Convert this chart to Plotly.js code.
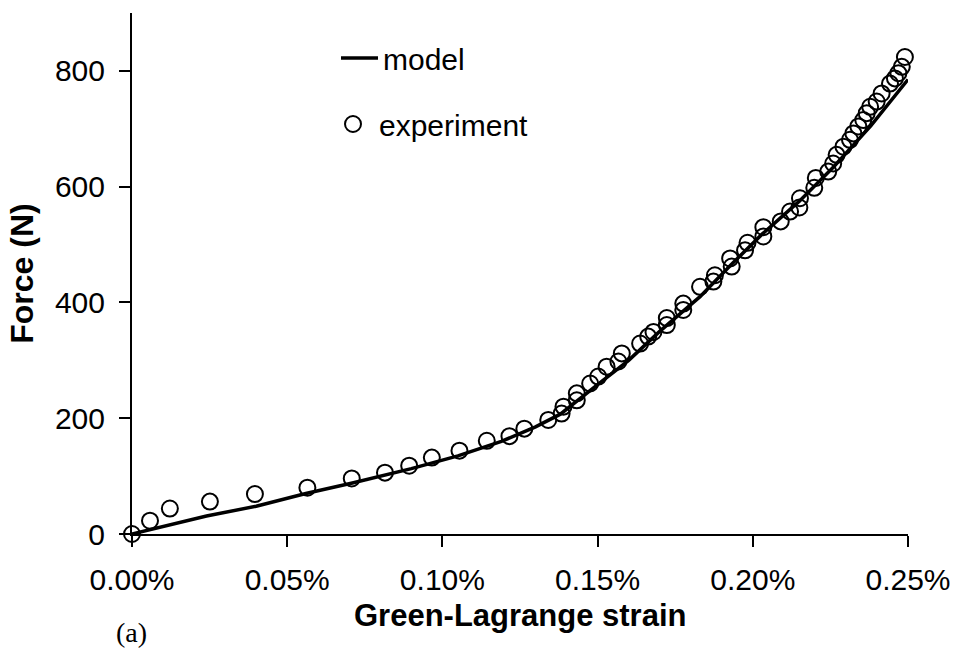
<!DOCTYPE html>
<html>
<head>
<meta charset="utf-8">
<script src="https://cdn.plot.ly/plotly-3.0.1.min.js"></script>
<style>html,body{margin:0;padding:0;background:#fff;}#chart{width:957px;height:650px;}</style>
</head>
<body>
<div id="chart"></div>
<script>
// Model curve (strain in %, force in N)
const strainModel = [0, 0.012, 0.024, 0.040, 0.056, 0.071, 0.090, 0.105, 0.119, 0.130, 0.138, 0.150, 0.160, 0.170, 0.183, 0.193, 0.203, 0.215, 0.226, 0.238, 0.250];
const forceModel  = [0, 15, 31, 48, 70, 88, 113, 135, 160, 185, 207, 258, 300, 350, 410, 465, 518, 575, 634, 705, 785];

// Experimental points (strain in %, force in N)
const strainExp = [0, 0.0058, 0.0122, 0.0251, 0.0396, 0.0565, 0.0708, 0.0815, 0.0893, 0.0966, 0.1055, 0.1143, 0.1216, 0.1264, 0.1341, 0.1384, 0.1390, 0.1433, 0.1433, 0.1476, 0.1502, 0.1529, 0.1567, 0.1578, 0.1637, 0.1663, 0.1680, 0.1723, 0.1723, 0.1776, 0.1776, 0.1830, 0.1873, 0.1878, 0.1932, 0.1927, 0.1975, 0.1983, 0.2034, 0.2034, 0.2090, 0.2120, 0.2150, 0.2152, 0.2198, 0.2203, 0.2243, 0.2259, 0.2270, 0.2292, 0.2313, 0.2324, 0.2340, 0.2356, 0.2367, 0.2378, 0.2399, 0.2415, 0.2442, 0.2458, 0.2469, 0.2480, 0.2490];
const forceExp  = [0, 23, 44, 56, 69, 80, 96, 106, 118, 132, 144, 161, 169, 182, 197, 208, 220, 231, 243, 260, 272, 289, 298, 312, 329, 341, 349, 361, 373, 387, 398, 427, 436, 447, 462, 476, 490, 503, 514, 530, 540, 557, 564, 580, 598, 615, 626, 640, 655, 669, 681, 692, 704, 715, 727, 738, 747, 761, 778, 787, 796, 807, 824];

// Axis ticks
const xTickVals = [0, 0.05, 0.10, 0.15, 0.20, 0.25];
const xTickText = ['0.00%', '0.05%', '0.10%', '0.15%', '0.20%', '0.25%'];
const yTickVals = [0, 200, 400, 600, 800];
const yTickText = ['0', '200', '400', '600', '800'];

const xTitle = 'Green-Lagrange strain';
const yTitle = 'Force (N)';
const panelLabel = '(a)';

const FONT = 'Liberation Sans, Arial, sans-serif';

const traces = [
  {
    x: strainModel, y: forceModel, name: 'model', type: 'scatter', mode: 'lines',
    line: {color: '#000', width: 3.5}, cliponaxis: false, legend: 'legend'
  },
  {
    x: strainExp, y: forceExp, name: 'experiment', type: 'scatter', mode: 'markers',
    marker: {symbol: 'circle-open', size: 16, color: '#000', line: {color: '#000', width: 2}},
    cliponaxis: false, legend: 'legend2'
  }
];

const axisCommon = {
  showline: true, linecolor: '#000', linewidth: 2,
  ticks: 'outside', ticklen: 11, tickwidth: 2, tickcolor: '#000',
  showgrid: false, zeroline: false,
  tickfont: {family: FONT, size: 30, color: '#000'}
};

const layout = {
  width: 957, height: 650,
  margin: {l: 132, r: 49, t: 13, b: 116},
  paper_bgcolor: '#fff', plot_bgcolor: '#fff',
  font: {family: FONT, color: '#000'},
  xaxis: Object.assign({}, axisCommon, {
    range: [0, 0.25], tickmode: 'array', tickvals: xTickVals, ticktext: xTickText,
    ticklabelstandoff: 7
  }),
  yaxis: Object.assign({}, axisCommon, {
    range: [0, 900], tickmode: 'array', tickvals: yTickVals, ticktext: yTickText,
    ticklabelstandoff: 8,
    title: {text: yTitle, font: {family: FONT, size: 32, weight: 'bold', color: '#000'}, standoff: 12}
  }),
  showlegend: true,
  legend: {
    x: (336 - 132) / 776, y: (534 - 58) / 521, xanchor: 'left', yanchor: 'middle',
    itemwidth: 37,
    bgcolor: 'rgba(0,0,0,0)', borderwidth: 0,
    font: {family: FONT, size: 30, color: '#000'}
  },
  legend2: {
    x: (327 - 132) / 776, y: (534 - 124) / 521, xanchor: 'left', yanchor: 'middle',
    itemwidth: 42,
    bgcolor: 'rgba(0,0,0,0)', borderwidth: 0,
    font: {family: FONT, size: 30, color: '#000'}
  },
  annotations: [
    {text: xTitle, xref: 'paper', yref: 'paper', x: 0.5, y: (534 - 615) / 521,
     xanchor: 'center', yanchor: 'middle', showarrow: false,
     font: {family: FONT, size: 31, weight: 'bold', color: '#000'}},
    {text: panelLabel, xref: 'paper', yref: 'paper', x: (131 - 132) / 776, y: (534 - 650) / 521,
     xanchor: 'center', yanchor: 'bottom', showarrow: false,
     font: {family: 'Liberation Serif, Times New Roman, serif', size: 28, color: '#000'}}
  ]
};

Plotly.newPlot('chart', traces, layout, {staticPlot: true, displayModeBar: false});
</script>
</body>
</html>
